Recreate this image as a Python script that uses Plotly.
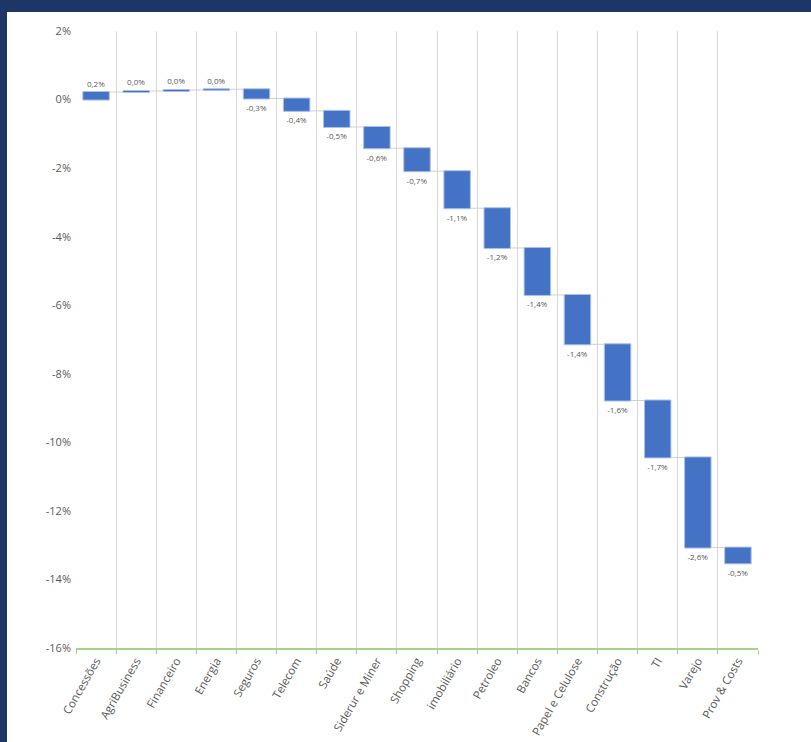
import plotly.graph_objects as go

# Sector contributions to the portfolio return (in %)
sectors = [
    "Concessões", "AgriBusiness", "Financeiro", "Energia", "Seguros", "Telecom",
    "Saúde", "Siderur e Miner", "Shopping", "imobiliário", "Petroleo", "Bancos",
    "Papel e Celulose", "Construção", "TI", "Varejo", "Prov & Costs",
]
contrib = [
    0.22, 0.03, 0.03, 0.02, -0.27, -0.36,
    -0.47, -0.62, -0.67, -1.08, -1.16, -1.37,
    -1.44, -1.64, -1.66, -2.63, -0.46,
]

# Y axis ticks
y_ticks = [2, 0, -2, -4, -6, -8, -10, -12, -14, -16]
y_tick_labels = ["2%", "0%", "-2%", "-4%", "-6%", "-8%", "-10%", "-12%", "-14%", "-16%"]

bar_labels = [f"{v:.1f}".replace(".", ",").replace("-0,0", "0,0") + "%" for v in contrib]

NAVY = "#1c3668"
BLUE = "#4472c4"
GREY_TXT = "#595959"
FONT = "Open Sans, Noto Sans, DejaVu Sans, sans-serif"

W, H = 811, 742
ML, MR, MT, MB = 76, 53, 31, 94
pw, ph = W - ML - MR, H - MT - MB

fig = go.Figure(
    go.Waterfall(
        x=sectors,
        y=contrib,
        measure=["relative"] * len(contrib),
        text=bar_labels,
        textposition="outside",
        textfont=dict(size=8, color=GREY_TXT, family=FONT),
        increasing=dict(marker=dict(color=BLUE, line=dict(color="#a9c1e8", width=1))),
        decreasing=dict(marker=dict(color=BLUE, line=dict(color="#a9c1e8", width=1))),
        connector=dict(line=dict(color="#d0d0d0", width=1)),
        cliponaxis=False,
        showlegend=False,
        hoverinfo="x+y",
    )
)

# White panel inside the navy frame (left and top edges framed)
fig.add_shape(
    type="rect", xref="paper", yref="paper", layer="below",
    x0=(7 - ML) / pw, x1=(W + 40 - ML) / pw,
    y0=-(MB + 40) / ph, y1=1 + (MT - 12) / ph,
    fillcolor="white", line=dict(width=0),
)

fig.update_layout(
    width=W, height=H,
    margin=dict(l=ML, r=MR, t=MT, b=MB, autoexpand=False),
    paper_bgcolor=NAVY,
    plot_bgcolor="white",
    waterfallgap=0.34,
    font=dict(family=FONT, color=GREY_TXT),
)

fig.update_xaxes(
    type="category",
    automargin=False,
    tickson="boundaries",
    showgrid=True, gridcolor="#d9d9d9", gridwidth=1,
    showline=True, linecolor="#a9d18e", linewidth=1.5,
    ticks="outside", ticklen=4, tickcolor="#a9d18e",
    tickangle=-60,
    tickfont=dict(size=11.5, color=GREY_TXT, family=FONT),
    zeroline=False,
)

fig.update_yaxes(
    automargin=False,
    range=[-16, 2],
    tickvals=y_ticks, ticktext=y_tick_labels,
    showgrid=False, zeroline=False, showline=False,
    ticks="", ticklabelstandoff=4,
    tickfont=dict(size=11, color=GREY_TXT, family=FONT),
)

fig.write_html("out.html")
